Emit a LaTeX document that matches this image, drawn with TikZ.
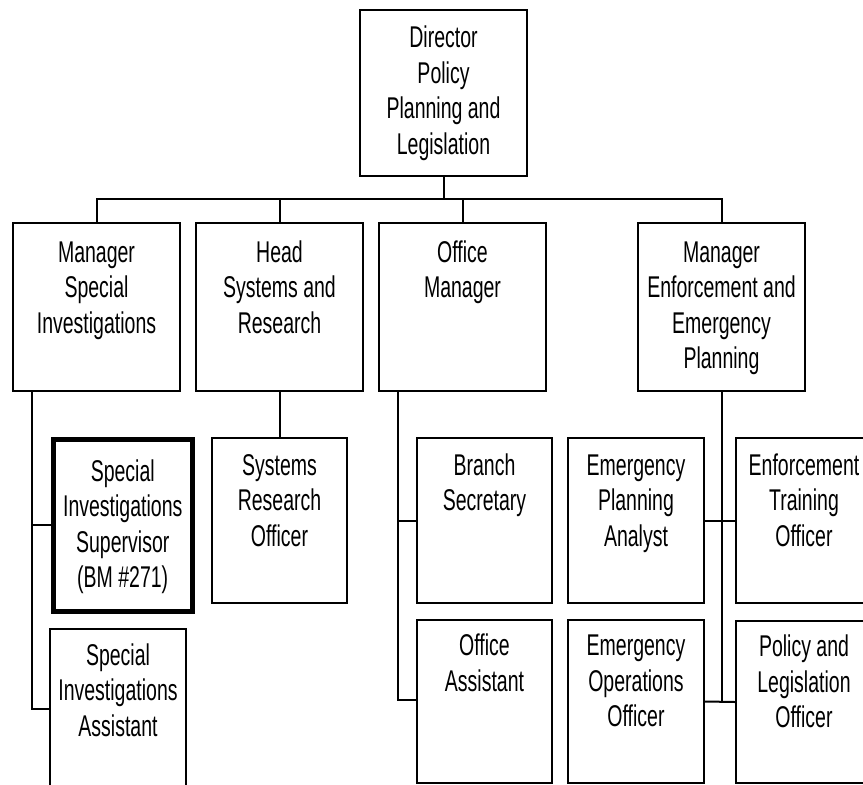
\documentclass[tikz,border=0pt]{standalone}
\usepackage{fontspec}
\setmainfont{Liberation Sans}[FakeStretch=0.65]
\newcommand{\bxt}[4]{\parbox[c][#2pt][t]{#1pt}{\centering\rule{0pt}{#3pt}#4\par}}
\tikzset{
  orgbox/.style={draw, line width=2pt, inner sep=0pt, anchor=north west,
    font=\fontsize{30}{35.5}\selectfont},
  keybox/.style={orgbox, line width=4.5pt},
  conn/.style={line width=2pt},
}
\begin{document}
\begin{tikzpicture}[x=1pt,y=-1pt]
\useasboundingbox (0,0) rectangle (863,785);
\clip (0,0) rectangle (863,785);
\fill[white] (0,0) rectangle (863,785);
% top
\node[orgbox] (dir) at (359,9) {\bxt{167}{166}{37.5}{Director\\Policy\\Planning and\\Legislation}};
% level 2
\node[orgbox] (si) at (12,222) {\bxt{167}{168}{39}{Manager\\Special\\Investigations}};
\node[orgbox] (head) at (195,222) {\bxt{167}{168}{39}{Head\\Systems and\\Research}};
\node[orgbox] (off) at (378,222) {\bxt{167}{168}{39}{Office\\Manager}};
\node[orgbox] (enf) at (637,222) {\bxt{167}{168}{39}{Manager\\Enforcement and\\Emergency\\Planning}};
% level 3
\node[keybox] (sup) at (51,437) {\bxt{139}{172}{42}{Special\\Investigations\\Supervisor\\(BM \#271)}};
\node[orgbox] (sia) at (49,628) {\bxt{136}{180}{36}{Special\\Investigations\\Assistant}};
\node[orgbox] (sro) at (211,437) {\bxt{135}{165}{37}{Systems\\Research\\Officer}};
\node[orgbox] (bs) at (416,437) {\bxt{135}{165}{37}{Branch\\Secretary}};
\node[orgbox] (oa) at (416,619) {\bxt{135}{163}{35.5}{Office\\Assistant}};
\node[orgbox] (epa) at (567,437) {\bxt{136}{165}{37}{Emergency\\Planning\\Analyst}};
\node[orgbox] (eoo) at (567,619) {\bxt{136}{163}{35.5}{Emergency\\Operations\\Officer}};
\node[orgbox] (eto) at (735,437) {\bxt{136}{165}{37}{Enforcement\\Training\\Officer}};
\node[orgbox] (plo) at (735,620) {\bxt{136}{162}{35.5}{Policy and\\Legislation\\Officer}};
% connectors
\coordinate (bus) at (0,199);
\coordinate (sitrunk) at (32,709);
\coordinate (offtrunk) at (398,700);
\draw[conn] (dir.south) -- (dir.south |- bus);
\draw[conn] (si.north) -- (si.north |- bus) -- (enf.north |- bus) -- (enf.north);
\draw[conn] (head.north) -- (head.north |- bus);
\draw[conn] (off.north) -- (off.north |- bus);
\draw[conn] (si.south -| sitrunk) -- (sitrunk) -- (sitrunk -| sia.west);
\draw[conn] (sup.west -| sitrunk) -- (sup.west);
\draw[conn] (head.south) -- (sro.north);
\draw[conn] (off.south -| offtrunk) -- (offtrunk) -- (offtrunk -| oa.west);
\draw[conn] (bs.west -| offtrunk) -- (bs.west);
\draw[conn] (enf.south) -- (enf.south |- eoo.east);
\draw[conn] (epa.east) -- (eto.west);
\draw[conn] (eoo.east) -- (plo.west);
\end{tikzpicture}
\end{document}
